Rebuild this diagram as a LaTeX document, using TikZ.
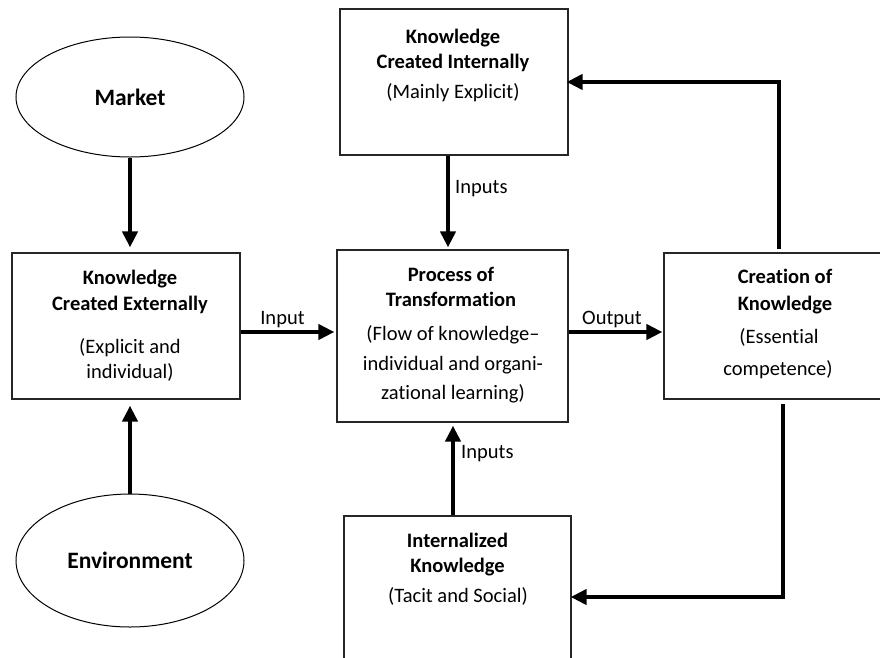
\documentclass[tikz,border=0pt]{standalone}
\usepackage{fontspec}
\setmainfont{Carlito}[Ligatures={NoCommon,NoRequired,NoContextual}]
\usetikzlibrary{arrows.meta,shapes.geometric}

\tikzset{
  box/.style={draw=black!85, line width=1.2pt, fill=none, rectangle, inner sep=0pt},
  oval/.style={draw=black, line width=1pt, ellipse, inner sep=0pt,
               font=\fontsize{23.5}{28}\selectfont\bfseries},
  head/.style={inner sep=0pt, anchor=base, font=\fontsize{20.5}{25}\selectfont\bfseries},
  body/.style={inner sep=0pt, anchor=base, font=\fontsize{20.5}{25}\selectfont},
  tag/.style={inner sep=0pt, anchor=base, font=\fontsize{20.5}{25}\selectfont},
  flow/.style={line width=4pt, -{Triangle[length=16pt,width=15pt]}},
}

\begin{document}
\begin{tikzpicture}[x=1pt, y=-1pt]
\useasboundingbox (0,0) rectangle (880,657);
\clip (0,0) rectangle (880,657);
\fill[white] (0,0) rectangle (880,657);

% outer influences
\node[oval, minimum width=228pt, minimum height=120pt] (market) at (130,97) {Market};
\node[oval, minimum width=228pt, minimum height=133pt] (env) at (130,560.5) {Environment};

% boxes (the last two run past the edge of the page)
\node[box, minimum width=228pt, minimum height=146pt] (kce) at (126,326) {};
\node[box, minimum width=228pt, minimum height=146pt] (kci) at (454,82) {};
\node[box, minimum width=231pt, minimum height=172pt] (proc) at (452.5,336) {};
\node[box, minimum width=240pt, minimum height=146pt] (cre) at (784,326) {};
\node[box, minimum width=227pt, minimum height=180pt] (intk) at (457.5,606) {};

% box texts
\node[head] (kce1) at (130,284) {Knowledge};
\node[head] (kce2) at (130,310) {Created Externally};
\node[body] (kce3) at (130,353) {(Explicit and};
\node[body] (kce4) at (130,378) {individual)};

\node[head] (kci1) at (453,43) {Knowledge};
\node[head] (kci2) at (453,68) {Created Internally};
\node[body] (kci3) at (453,98) {(Mainly Explicit)};

\node[head] (pr1) at (451,281) {Process of};
\node[head] (pr2) at (451,306) {Transformation};
\node[body] (pr3) at (453,340) {(Flow of knowledge–};
\node[body] (pr4) at (453,370) {individual and organi-};
\node[body] (pr5) at (453,399) {zational learning)};

\node[head] (cr1) at (785,283) {Creation of};
\node[head] (cr2) at (785,310) {Knowledge};
\node[body] (cr3) at (779,343) {(Essential};
\node[body] (cr4) at (778,375) {competence)};

\node[head] (ik1) at (457.5,547) {Internalized};
\node[head] (ik2) at (457.5,572) {Knowledge};
\node[body] (ik3) at (458,602) {(Tacit and Social)};

% connector routing points
\coordinate (midy) at (0,332);
\coordinate (upx) at (448,0);
\coordinate (dnx) at (453,0);
\coordinate (topx) at (779,0);
\coordinate (botx) at (783,0);
\coordinate (hiy) at (0,82);
\coordinate (loy) at (0,597);

% connectors
\draw[flow, shorten >=5pt] (market.south) -- (kce.north -| market.south);
\draw[flow, shorten >=6pt] (env.north) -- (kce.south -| env.north);
\draw[flow, shorten >=2pt] (kci.south -| upx) -- (proc.north -| upx);
\draw[flow, shorten >=3pt] (intk.north -| dnx) -- (proc.south -| dnx);
\draw[flow, shorten >=2pt] (kce.east |- midy) -- (proc.west |- midy);
\draw[flow, shorten >=1pt] (proc.east |- midy) -- (cre.west |- midy);
\draw[flow, shorten >=-2pt] ([yshift=3pt]cre.north -| topx) |- (kci.east |- hiy);
\draw[flow, shorten >=-1pt] ([yshift=-4pt]cre.south -| botx) |- (intk.east |- loy);

% connector labels
\node[tag, anchor=base west] (lin1) at (455,193) {Inputs};
\node[tag, anchor=base west] (lin2) at (461,458) {Inputs};
\node[tag] (lin) at (282.5,324) {Input};
\node[tag] (lout) at (612,324) {Output};
\end{tikzpicture}
\end{document}
